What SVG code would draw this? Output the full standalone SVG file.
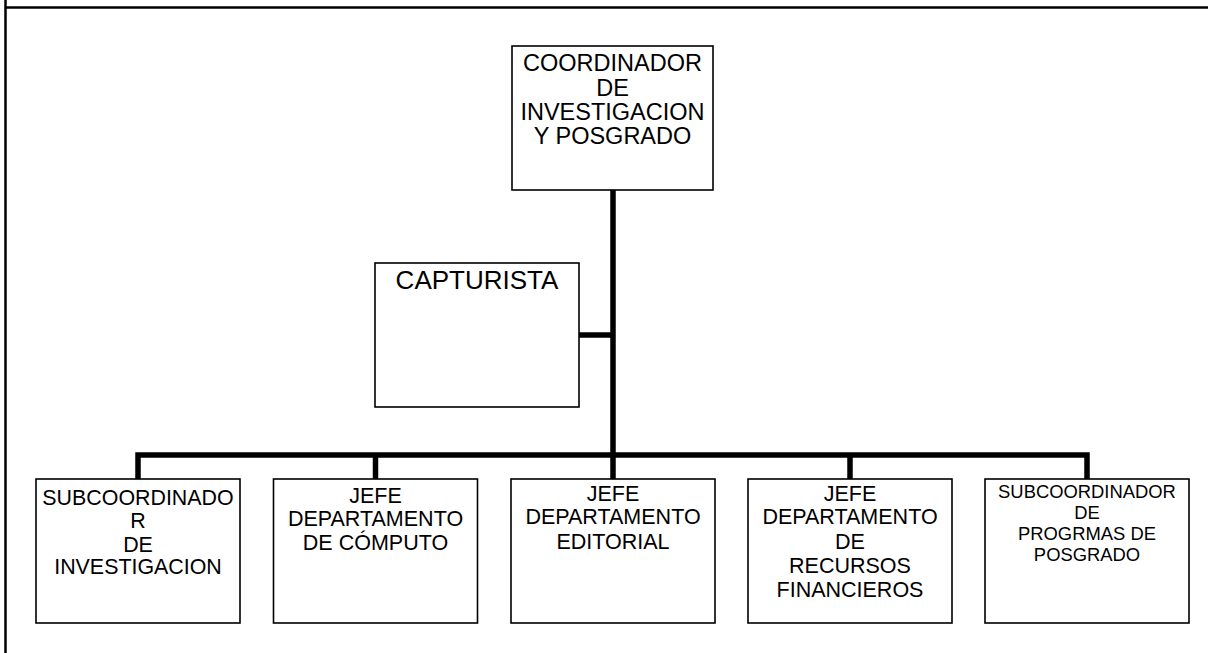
<svg xmlns="http://www.w3.org/2000/svg" width="1208" height="653" viewBox="0 0 1208 653">
<style>
.box{fill:#fff;stroke:#000;stroke-width:1.6}
.t{font-family:"Liberation Sans",Arial,sans-serif;fill:#000;text-anchor:middle}
.c{stroke:#000;stroke-width:5.5;fill:none;stroke-linecap:butt}
.frame{stroke:#000;stroke-width:2.5;fill:none}
</style>
<rect width="1208" height="653" fill="#fff"/>
<g id="frame">
<line class="frame" x1="5.5" y1="0" x2="5.5" y2="653"/>
<line class="frame" x1="5.5" y1="7.5" x2="1208" y2="7.5"/>
</g>
<g id="connectors">
<line class="c" x1="613" y1="190" x2="613" y2="479"/>
<line class="c" x1="578" y1="335" x2="613" y2="335"/>
<polyline class="c" points="138,479 138,455 1087,455 1087,479"/>
<line class="c" x1="375.5" y1="455" x2="375.5" y2="479"/>
<line class="c" x1="850" y1="455" x2="850" y2="479"/>
</g>
<g id="coordinador">
<rect class="box" x="512" y="46" width="201" height="144"/>
<text class="t" font-size="23.5"><tspan x="612.5" y="71">COORDINADOR</tspan><tspan x="612.5" y="96">DE</tspan><tspan x="612.5" y="120">INVESTIGACION</tspan><tspan x="612.5" y="144">Y POSGRADO</tspan></text>
</g>
<g id="capturista">
<rect class="box" x="375" y="263" width="204" height="144"/>
<text class="t" font-size="26" x="477" y="288.5">CAPTURISTA</text>
</g>
<g id="subcoord-investigacion">
<rect class="box" x="36" y="479" width="204" height="144"/>
<text class="t" font-size="21.4"><tspan x="138" y="505">SUBCOORDINADO</tspan><tspan x="138" y="528.3">R</tspan><tspan x="138" y="551.7">DE</tspan><tspan x="138" y="573.5">INVESTIGACION</tspan></text>
</g>
<g id="jefe-computo">
<rect class="box" x="273.5" y="479" width="204" height="144"/>
<text class="t" font-size="21.5"><tspan x="375.5" y="502.7">JEFE</tspan><tspan x="375.5" y="526">DEPARTAMENTO</tspan><tspan x="375.5" y="550">DE CÓMPUTO</tspan></text>
</g>
<g id="jefe-editorial">
<rect class="box" x="511" y="479" width="204" height="144"/>
<text class="t" font-size="21.5"><tspan x="613" y="500.7">JEFE</tspan><tspan x="613" y="524">DEPARTAMENTO</tspan><tspan x="613" y="548.7">EDITORIAL</tspan></text>
</g>
<g id="jefe-recursos">
<rect class="box" x="748" y="479" width="204" height="144"/>
<text class="t" font-size="21.5"><tspan x="850" y="500.7">JEFE</tspan><tspan x="850" y="523.5">DEPARTAMENTO</tspan><tspan x="850" y="548.7">DE</tspan><tspan x="850" y="572.7">RECURSOS</tspan><tspan x="850" y="596.7">FINANCIEROS</tspan></text>
</g>
<g id="subcoord-posgrado">
<rect class="box" x="985" y="479" width="204" height="144"/>
<text class="t" font-size="18.4"><tspan x="1087" y="498.3">SUBCOORDINADOR</tspan><tspan x="1087" y="518.7">DE</tspan><tspan x="1087" y="539.5">PROGRMAS DE</tspan><tspan x="1087" y="560.7">POSGRADO</tspan></text>
</g>
</svg>
